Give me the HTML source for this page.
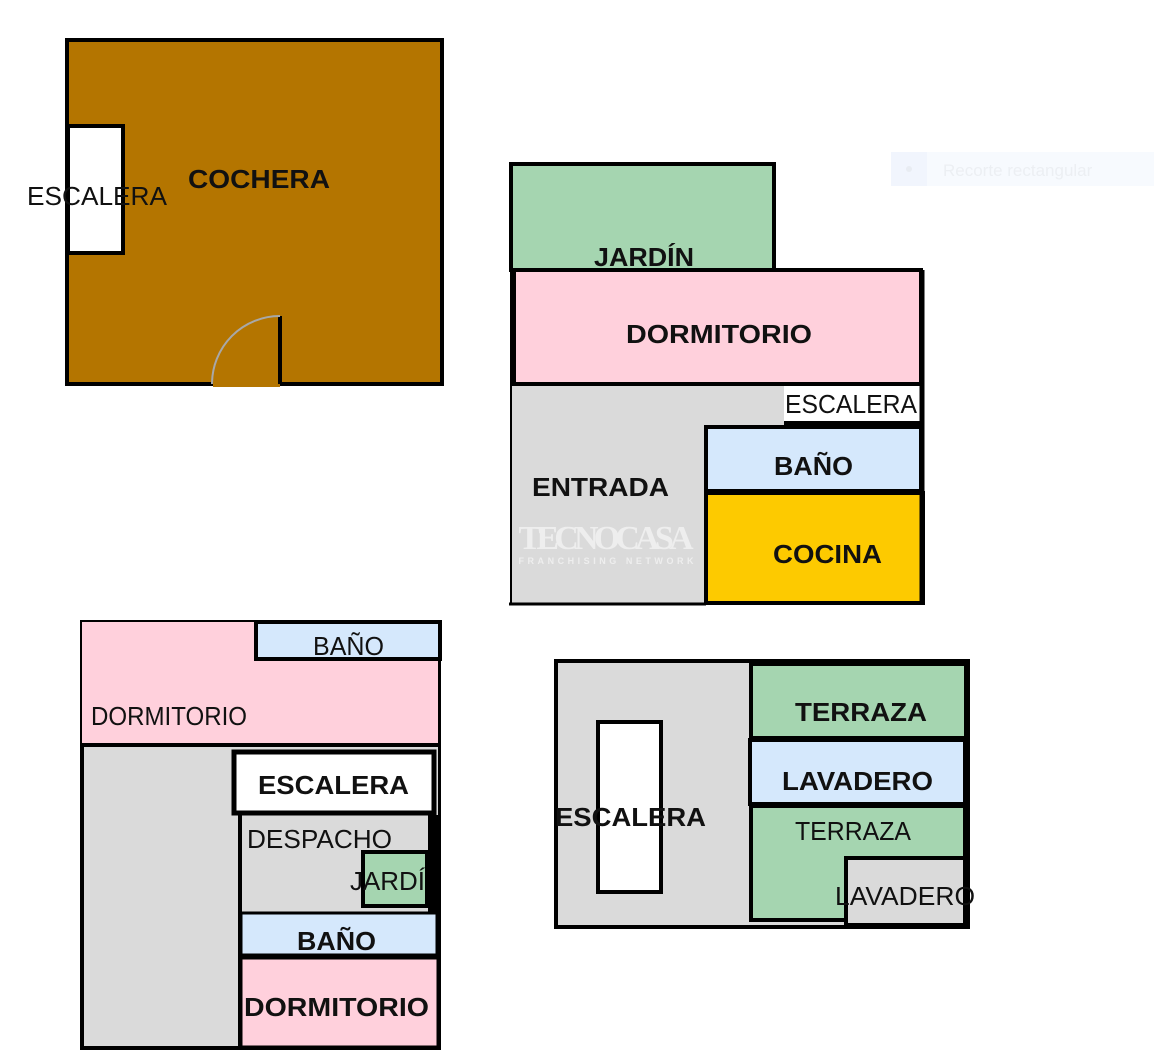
<!DOCTYPE html>
<html><head><meta charset="utf-8"><style>
html,body{margin:0;padding:0;background:#fff;width:1154px;height:1063px;overflow:hidden}
svg{display:block}
text{font-family:"Liberation Sans",Arial,sans-serif;fill:#111}
.b{font-weight:bold;font-size:26px}
.n{font-size:26px}
</style></head><body>
<svg width="1154" height="1063" viewBox="0 0 1154 1063" xmlns="http://www.w3.org/2000/svg">
<!-- Cochera -->
<rect x="67" y="40" width="375" height="344" fill="#b47500" stroke="#000" stroke-width="4"/>
<rect x="213" y="381" width="67" height="6" fill="#b47500"/>
<rect x="68" y="126" width="55" height="127" fill="#fff" stroke="#000" stroke-width="4"/>
<line x1="280" y1="316" x2="280" y2="384" stroke="#000" stroke-width="4"/>
<path d="M280 316 A68 68 0 0 0 212 384" fill="none" stroke="#a8a8a8" stroke-width="2"/>
<text class="b" x="188" y="188" textLength="142" lengthAdjust="spacingAndGlyphs">COCHERA</text>
<text class="n" x="27" y="205" textLength="140" lengthAdjust="spacingAndGlyphs">ESCALERA</text>

<!-- Plan 2 -->
<rect x="511" y="164" width="263" height="106" fill="#a5d5b0" stroke="#000" stroke-width="4"/>
<rect x="510" y="384" width="274" height="220" fill="#dadada"/>
<rect x="514" y="270" width="407" height="114" fill="#ffd0dc" stroke="#000" stroke-width="4"/>
<rect x="510" y="270" width="6" height="116" fill="#000"/>
<rect x="784" y="388" width="136" height="34" fill="#fff"/>
<rect x="706" y="427" width="215" height="64" fill="#d5e8fc" stroke="#000" stroke-width="4"/>
<rect x="706" y="493" width="217" height="110" fill="#fdca00" stroke="#000" stroke-width="4"/>
<line x1="922" y1="270" x2="922" y2="605" stroke="#000" stroke-width="5"/>
<rect x="510" y="384" width="2" height="221" fill="#000"/>
<line x1="509" y1="604" x2="706" y2="604" stroke="#000" stroke-width="3"/>
<line x1="784" y1="423" x2="922" y2="423" stroke="#000" stroke-width="4"/>
<text class="b" x="594" y="266" textLength="100" lengthAdjust="spacingAndGlyphs">JARDÍN</text>
<text class="b" x="626" y="343" textLength="186" lengthAdjust="spacingAndGlyphs">DORMITORIO</text>
<text class="n" x="785" y="413" textLength="132" lengthAdjust="spacingAndGlyphs">ESCALERA</text>
<text class="b" x="774" y="475" textLength="79" lengthAdjust="spacingAndGlyphs">BAÑO</text>
<text class="b" x="532" y="496" textLength="137" lengthAdjust="spacingAndGlyphs">ENTRADA</text>
<text class="b" x="773" y="563" textLength="109" lengthAdjust="spacingAndGlyphs">COCINA</text>
<text x="606" y="549" text-anchor="middle" font-size="34" font-weight="bold" style="fill:#eeeeee;font-family:'Liberation Serif',serif" textLength="175">TECNOCASA</text>
<text x="606" y="564" text-anchor="middle" font-size="9" font-weight="bold" style="fill:#eeeeee" textLength="175">FRANCHISING NETWORK</text>

<!-- Plan 3 -->
<rect x="82" y="622" width="357" height="426" fill="#dadada" stroke="#000" stroke-width="4"/>
<rect x="82" y="622" width="356" height="122" fill="#ffd0dc"/>
<line x1="80" y1="745" x2="440" y2="745" stroke="#000" stroke-width="4"/>
<rect x="256" y="622" width="184" height="37" fill="#d5e8fc" stroke="#000" stroke-width="4"/>
<rect x="240" y="747" width="198" height="300" fill="#dadada"/>
<rect x="234" y="752" width="200" height="61" fill="#fff" stroke="#000" stroke-width="5"/>
<line x1="240" y1="815" x2="240" y2="1048" stroke="#000" stroke-width="4"/>
<rect x="428" y="815" width="10" height="100" fill="#000"/>
<rect x="363" y="852" width="64" height="54" fill="#a5d5b0" stroke="#000" stroke-width="4"/>
<rect x="241" y="913" width="196" height="42" fill="#d5e8fc" stroke="#000" stroke-width="3"/>
<rect x="241" y="958" width="197" height="89" fill="#ffd0dc" stroke="#000" stroke-width="3"/>
<text class="n" x="313" y="655" textLength="71" lengthAdjust="spacingAndGlyphs">BAÑO</text>
<text class="n" x="91" y="725" textLength="156" lengthAdjust="spacingAndGlyphs">DORMITORIO</text>
<text class="b" x="258" y="794" textLength="151" lengthAdjust="spacingAndGlyphs">ESCALERA</text>
<text class="n" x="247" y="848" textLength="145" lengthAdjust="spacingAndGlyphs">DESPACHO</text>
<text class="n" x="350" y="890" textLength="75" lengthAdjust="spacingAndGlyphs">JARDÍ</text>
<text class="b" x="297" y="950" textLength="79" lengthAdjust="spacingAndGlyphs">BAÑO</text>
<text class="b" x="244" y="1016" textLength="185" lengthAdjust="spacingAndGlyphs">DORMITORIO</text>

<!-- Plan 4 -->
<rect x="556" y="661" width="412" height="266" fill="#dadada" stroke="#000" stroke-width="4"/>
<rect x="598" y="722" width="63" height="170" fill="#fff" stroke="#000" stroke-width="4"/>
<rect x="751" y="664" width="215" height="74" fill="#a5d5b0" stroke="#000" stroke-width="4"/>
<rect x="750" y="740" width="215" height="64" fill="#d5e8fc" stroke="#000" stroke-width="4"/>
<rect x="751" y="806" width="214" height="114" fill="#a5d5b0" stroke="#000" stroke-width="4"/>
<rect x="846" y="858" width="119" height="67" fill="#dadada" stroke="#000" stroke-width="4"/>
<line x1="967" y1="661" x2="967" y2="927" stroke="#000" stroke-width="5"/>
<text class="b" x="795" y="721" textLength="132" lengthAdjust="spacingAndGlyphs">TERRAZA</text>
<text class="b" x="782" y="790" textLength="151" lengthAdjust="spacingAndGlyphs">LAVADERO</text>
<text class="b" x="555" y="826" textLength="151" lengthAdjust="spacingAndGlyphs">ESCALERA</text>
<text class="n" x="795" y="840" textLength="116" lengthAdjust="spacingAndGlyphs">TERRAZA</text>
<text class="n" x="835" y="905" textLength="140" lengthAdjust="spacingAndGlyphs">LAVADERO</text>

<!-- faint overlay -->
<rect x="891" y="152" width="263" height="34" fill="#f7fafe"/>
<rect x="891" y="152" width="36" height="34" fill="#f1f5fd"/>
<circle cx="909" cy="169" r="3" fill="#e8ecf2"/>
<text x="943" y="176" font-size="17" style="fill:#eceff3">Recorte rectangular</text>
</svg>
</body></html>
